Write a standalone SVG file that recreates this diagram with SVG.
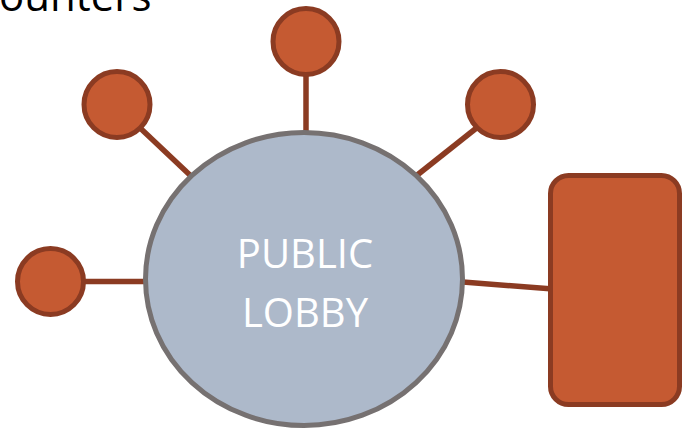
<svg xmlns="http://www.w3.org/2000/svg" width="685" height="434" viewBox="0 0 685 434">
  <style>
    .conn { stroke: #8B3B22; stroke-width: 5.5; fill: none; }
    .node { fill: #C55A32; stroke: #8B3B22; stroke-width: 5; }
    .hub { fill: #ADB9CA; stroke: #767171; stroke-width: 5; }
    .label { font-family: "Open Sans", "Liberation Sans", sans-serif; font-size: 40px; fill: #FFFFFF; text-anchor: middle; }
    .title { font-family: "Open Sans", "Liberation Sans", sans-serif; font-size: 42px; fill: #000000; }
  </style>
  <rect width="685" height="434" fill="#FFFFFF"/>
  <text class="title" x="-1" y="11">ounters</text>
  <g id="connectors">
    <line class="conn" x1="306" y1="74" x2="306" y2="134"/>
    <line class="conn" x1="138" y1="126" x2="192" y2="177"/>
    <line class="conn" x1="479" y1="126" x2="416" y2="176"/>
    <line class="conn" x1="84" y1="281.5" x2="146" y2="281.5"/>
    <line class="conn" x1="463" y1="282" x2="553" y2="289"/>
  </g>
  <g id="hub">
    <ellipse class="hub" cx="304" cy="279" rx="158.5" ry="146.5"/>
    <text class="label" x="305" y="268">PUBLIC</text>
    <text class="label" x="305" y="327">LOBBY</text>
  </g>
  <g id="node-top"><circle class="node" cx="306" cy="41.5" r="33"/></g>
  <g id="node-top-left"><circle class="node" cx="117" cy="104.5" r="33"/></g>
  <g id="node-top-right"><circle class="node" cx="500.5" cy="104.5" r="33"/></g>
  <g id="node-left"><circle class="node" cx="50.5" cy="281.5" r="33"/></g>
  <g id="node-right"><rect class="node" x="550.5" y="175.5" width="129" height="229" rx="18" ry="18"/></g>
</svg>
